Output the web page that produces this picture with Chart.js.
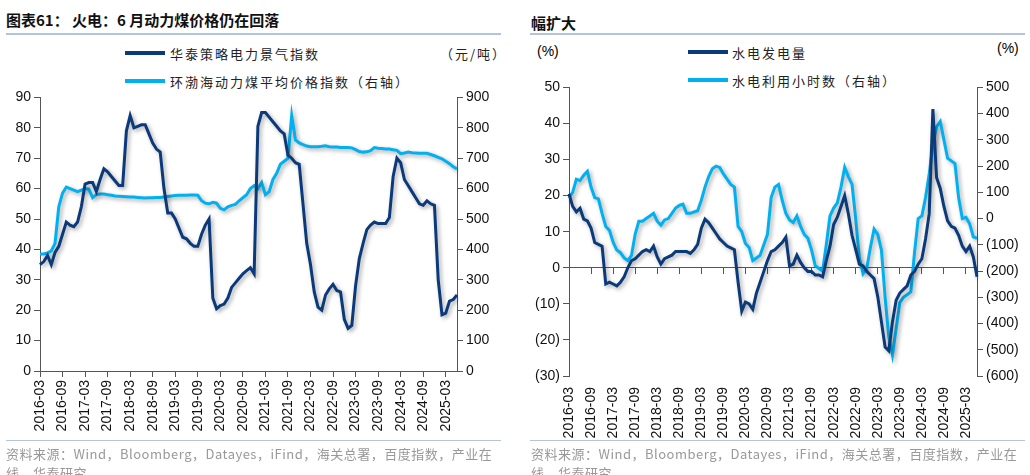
<!DOCTYPE html>
<html lang="zh">
<head>
<meta charset="UTF-8">
<title>火电与水电</title>
<script src="https://cdn.jsdelivr.net/npm/chart.js"></script>
<style>
  body { margin:0; width:1030px; height:475px; overflow:hidden; background:#fff; font-family:"Liberation Sans","Noto Sans CJK SC",sans-serif; position:relative; }
  .abs { position:absolute; white-space:nowrap; }
  .title { font-weight:bold; font-size:15px; color:#111; font-family:"Noto Sans CJK SC",sans-serif; }
  .rule { position:absolute; height:2px; background:#b4c4dc; }
  .leg { font-size:13px; color:#222; font-family:"Noto Sans CJK SC",sans-serif; letter-spacing:2px; }
  .sw { position:absolute; height:4px; width:40px; }
  .src { font-size:13px; color:#999; font-family:"Noto Sans CJK SC",sans-serif; letter-spacing:0.5px; }
  canvas { position:absolute; }
</style>
</head>
<body>
  <!-- 左图 -->
  <div class="abs title" style="left:6px;top:9px;">图表61：&nbsp;火电：6 月动力煤价格仍在回落</div>
  <div class="rule" style="left:6px;top:33px;width:495px;"></div>
  <div class="sw" style="left:125px;top:51px;background:#0b3a7a;"></div>
  <div class="abs leg" style="left:170px;top:44px;">华泰策略电力景气指数</div>
  <div class="abs leg" style="left:440px;top:44px;">（元/吨）</div>
  <div class="sw" style="left:125px;top:79px;background:#00b0f0;"></div>
  <div class="abs leg" style="left:170px;top:72px;">环渤海动力煤平均价格指数（右轴）</div>
  <canvas id="izq" width="515" height="360" style="left:0;top:86px;"></canvas>
  <div class="rule" style="left:6px;top:440px;width:495px;height:1px;"></div>
  <div class="abs src" style="left:6px;top:444px;width:495px;white-space:normal;">资料来源：Wind，Bloomberg，Datayes，iFind，海关总署，百度指数，产业在线，华泰研究</div>

  <!-- 右图 -->
  <div class="abs title" style="left:531px;top:12px;">幅扩大</div>
  <div class="rule" style="left:530px;top:33px;width:495px;"></div>
  <div class="abs" style="left:537px;top:43px;font-size:14px;">(%)</div>
  <div class="abs" style="left:997px;top:40px;font-size:14px;">(%)</div>
  <div class="sw" style="left:688px;top:50px;background:#0b3a7a;"></div>
  <div class="abs leg" style="left:732px;top:43px;">水电发电量</div>
  <div class="sw" style="left:688px;top:78px;background:#00b0f0;"></div>
  <div class="abs leg" style="left:732px;top:71px;">水电利用小时数（右轴）</div>
  <canvas id="der" width="515" height="370" style="left:515px;top:76px;"></canvas>
  <div class="rule" style="left:530px;top:440px;width:495px;height:1px;"></div>
  <div class="abs src" style="left:531px;top:444px;width:495px;white-space:normal;">资料来源：Wind，Bloomberg，Datayes，iFind，海关总署，百度指数，产业在线，华泰研究</div>

<script>
// 月份 2016-03 ~ 2025-06
const meses = [];
for (let y = 2016; y <= 2025; y++) {
  for (let m = 1; m <= 12; m++) {
    if ((y === 2016 && m < 3) || (y === 2025 && m > 6)) continue;
    meses.push(y + '-' + String(m).padStart(2, '0'));
  }
}

// 华泰策略电力景气指数
const indiceElectrico = [
  35,36,38,35,39,41,45,49,48,47.5,
  49,54,61.5,62,62,59,63,66.5,65.5,64,62.5,61,
  61,79,84,80,80.5,81,81,78,75,73,72,60,
  52,52,50,47,44,43.5,42,41,41,45,48,50,
  24,20.5,21.5,22,24,27.5,29,30.5,32,33,34,32,
  80.5,85,85,83.5,82,80.5,79,78,71,70,68.5,68,
  55,42,35,26,21,20,25,27,28.5,26.5,26,17,
  14,15,28,37,42,46.5,48,49,48.5,48.5,48.5,50.5,
  64,70,68.5,63,61,59,57,55,54.5,56,55,54.5,
  30,18.5,19,23,23.5,25
];

// 环渤海动力煤平均价格指数（元/吨）
const precioCarbon = [
  385,385,388,395,420,540,585,605,600,595,
  590,595,600,598,570,580,582,582,580,578,576,575,
  574,573,572,572,571,570,569,570,570,571,571,572,
  574,576,577,578,578,578,579,579,578,560,552,550,
  555,552,535,530,540,545,548,560,570,580,600,610,
  600,620,580,590,630,650,680,690,700,840,760,750,
  745,740,738,738,738,739,741,738,737,737,735,735,
  735,734,728,722,720,721,725,735,733,732,730,730,
  728,726,715,717,720,718,717,716,716,716,712,708,
  703,698,690,682,672,665
];

// 水电发电量同比（%）
const hidroGeneracion = [
  20.5,17,15.5,16.5,13.5,13,11,7,6.5,6,
  -4.5,-4,-4.5,-5,-4,-2.5,0,2,2.5,3.5,4.5,5,
  4.5,6,3,1,2.5,3,3.5,4.5,4.5,4.5,4.5,4,
  5,6.5,11,13.5,12.5,11,9.5,8,7,6,5.5,5,
  -4,-12,-9.5,-10,-11.5,-7,-4,-1,2,4.5,5,6,
  7,8.5,0.5,1,3.5,1.5,0,-1,-1,-2,-2,-2.5,
  2,6,12,14,17,20,15,9,5,1,0.5,-1,
  -2,-3,-8,-15,-22,-23,-15,-9,-7,-6,-5,-2,
  -1,1,2.5,8,15,44,25,22,17,13,11.5,11,
  9,6,4.5,6,3,-2.5
];

// 水电利用小时数同比（右轴）
const hidroHoras = [
  80,100,150,145,165,180,120,80,75,20,
  -30,-45,-90,-120,-130,-150,-160,-140,-60,-10,-10,0,
  10,20,-10,-25,-5,0,20,40,50,55,20,20,
  25,30,70,120,160,190,200,195,170,150,130,120,
  -30,-50,-95,-110,-160,-150,-140,-100,-60,80,120,130,
  70,20,-5,-15,10,-30,-60,-75,-120,-180,-190,-200,
  -100,10,40,60,120,195,160,130,0,-150,-210,-190,
  -110,-40,-60,-120,-300,-450,-520,-420,-320,-300,-290,-280,
  -130,0,10,80,170,280,350,370,300,230,220,210,
  80,0,5,-20,-70,-75
];

const azulOscuro = '#0b3a7a';
const azulClaro = '#00b0f0';
const fuenteTicks = { family: 'Liberation Sans', size: 14 };

const sombra = {
  id: 'sombra',
  beforeDatasetDraw(chart) {
    const c = chart.ctx;
    c.save();
    c.shadowColor = 'rgba(0,0,0,0.35)';
    c.shadowBlur = 4;
    c.shadowOffsetX = 2;
    c.shadowOffsetY = 2;
  },
  afterDatasetDraw(chart) { chart.ctx.restore(); }
};

const etiquetaMes = function (v, i) { return i % 6 === 0 ? meses[i] : null; };
const parentesis = v => v < 0 ? '(' + (-v) + ')' : v;

function serie(data, color, eje) {
  return { data, borderColor: color, backgroundColor: color, borderWidth: 3, pointRadius: 0, tension: 0, yAxisID: eje };
}

new Chart(document.getElementById('izq'), {
  type: 'line',
  data: {
    labels: meses,
    datasets: [serie(indiceElectrico, azulOscuro, 'y'), serie(precioCarbon, azulClaro, 'y2')]
  },
  options: {
    responsive: false, animation: false,
    layout: { padding: { top: 10, bottom: 0 } },
    plugins: { legend: { display: false }, tooltip: { enabled: false } },
    scales: {
      x: {
        offset: false,
        grid: { display: true, drawOnChartArea: false, tickLength: 6, color: '#555' },
        border: { color: '#555' },
        ticks: { autoSkip: false, maxRotation: 90, minRotation: 90, color: '#111', font: fuenteTicks, callback: etiquetaMes },
        afterFit: s => { s.height = 75; }
      },
      y: {
        position: 'left', min: 0, max: 90,
        ticks: { stepSize: 10, color: '#111', font: fuenteTicks },
        grid: { drawOnChartArea: false, tickLength: 6, color: '#555' },
        border: { color: '#555' },
        afterFit: s => { s.width = 40; }
      },
      y2: {
        position: 'right', min: 0, max: 900,
        ticks: { stepSize: 100, color: '#111', font: fuenteTicks },
        grid: { drawOnChartArea: false, tickLength: 6, color: '#555' },
        border: { color: '#555' },
        afterFit: s => { s.width = 58; }
      }
    }
  },
  plugins: [sombra]
});

new Chart(document.getElementById('der'), {
  type: 'line',
  data: {
    labels: meses,
    datasets: [serie(hidroGeneracion, azulOscuro, 'y'), serie(hidroHoras, azulClaro, 'y2')]
  },
  options: {
    responsive: false, animation: false,
    layout: { padding: { top: 10, bottom: 0 } },
    plugins: { legend: { display: false }, tooltip: { enabled: false } },
    scales: {
      x: {
        offset: false,
        grid: { display: false },
        border: { display: false },
        ticks: { autoSkip: false, maxRotation: 90, minRotation: 90, color: '#111', font: fuenteTicks, callback: etiquetaMes },
        afterFit: s => { s.height = 70; }
      },
      x0: {
        position: { y: 0 }, offset: false,
        grid: { display: true, drawOnChartArea: false, tickLength: 6, color: '#555' },
        border: { color: '#555' },
        ticks: { autoSkip: false, maxRotation: 0, color: 'rgba(0,0,0,0)', font: { size: 1 }, callback: etiquetaMes }
      },
      y: {
        position: 'left', min: -30, max: 50,
        ticks: { stepSize: 10, color: '#111', font: fuenteTicks, callback: parentesis },
        grid: { drawOnChartArea: false, tickLength: 6, color: '#555' },
        border: { color: '#555' },
        afterFit: s => { s.width = 54; }
      },
      y2: {
        position: 'right', min: -600, max: 500,
        ticks: { stepSize: 100, color: '#111', font: fuenteTicks, callback: parentesis },
        grid: { drawOnChartArea: false, tickLength: 6, color: '#555' },
        border: { color: '#555' },
        afterFit: s => { s.width = 53; }
      }
    }
  },
  plugins: [sombra]
});
</script>
</body>
</html>
